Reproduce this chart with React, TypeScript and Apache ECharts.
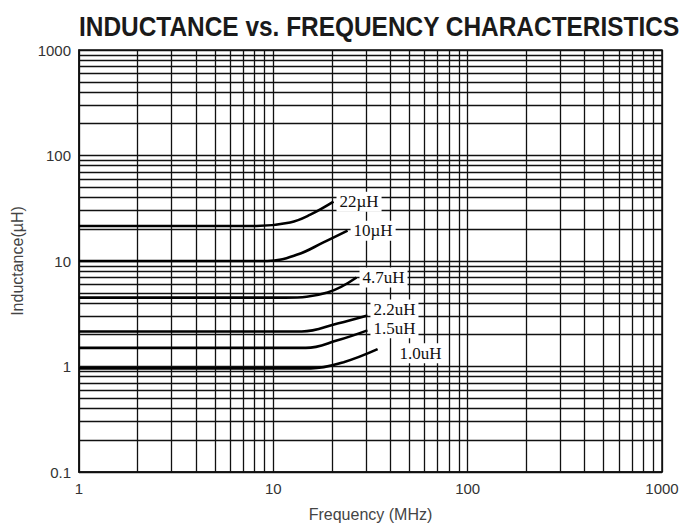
import React, { useEffect, useRef } from "react";
import * as echarts from "echarts";

const TITLE = "INDUCTANCE vs. FREQUENCY CHARACTERISTICS";
const X_NAME = "Frequency (MHz)";
const Y_NAME = "Inductance(µH)";
const X_TICK_LABELS = ["1", "10", "100", "1000"];
const Y_TICK_LABELS = ["0.1", "1", "10", "100", "1000"];

// minor grid values (2..9 per decade)
const X_GRID = [2, 3, 4, 5, 6, 7, 8, 9, 20, 30, 40, 50, 60, 70, 80, 90, 200, 300, 400, 500, 600, 700, 800, 900];
const Y_GRID = [
  0.2, 0.3, 0.4, 0.5, 0.6, 0.7, 0.8, 0.9,
  2, 3, 4, 5, 6, 7, 8, 9,
  20, 30, 40, 50, 60, 70, 80, 90,
  200, 300, 400, 500, 600, 700, 800, 900,
];

const NAMES = ["22µH", "10µH", "4.7uH", "2.2uH", "1.5uH", "1.0uH"];
const FREQ_22 = [1, 8.2, 12.2, 15.5, 20.4];
const IND_22 = [21.5, 21.5, 23.2, 27.5, 36.5];
const FREQ_10 = [1, 9.3, 13.3, 18.1, 24.1];
const IND_10 = [10, 10, 11.5, 15.0, 19.4];
const FREQ_47 = [1, 11.5, 19.0, 26.8];
const IND_47 = [4.5, 4.5, 5.04, 6.98];
const FREQ_22U = [1, 14.0, 21.4, 30.5];
const IND_22U = [2.15, 2.15, 2.56, 3.05];
const FREQ_15 = [1, 14.7, 21.4, 30.5];
const IND_15 = [1.5, 1.5, 1.77, 2.2];
const FREQ_10U = [1, 15.6, 23.0, 34.4];
const IND_10U = [0.96, 0.96, 1.1, 1.46];

const LABEL_OFFSETS: number[][] = [
  [0, 0],
  [0, 0],
  [0, 0],
  [0, -6],
  [0, -2],
  [16, 4],
];

export default function App() {
  const ref = useRef<HTMLDivElement>(null);
  useEffect(() => {
    if (!ref.current) return;
    const chart = echarts.init(ref.current, undefined, { renderer: "svg" });
    const curves = [
      [FREQ_22, IND_22],
      [FREQ_10, IND_10],
      [FREQ_47, IND_47],
      [FREQ_22U, IND_22U],
      [FREQ_15, IND_15],
      [FREQ_10U, IND_10U],
    ];
    const labelFor = (v: number, labels: string[], base: number) => {
      const i = Math.round(Math.log10(v)) - base;
      return labels[i] ?? "";
    };
    const gridLine = { color: "#111", width: 1.3, type: "solid" as const };
    chart.setOption({
      animation: false,
      backgroundColor: "#fff",
      graphic: [
        {
          type: "text",
          x: 79,
          y: 13,
          scaleX: 0.905,
          style: {
            text: TITLE,
            fontFamily: "Liberation Sans, Arial",
            fontWeight: "bold",
            fontSize: 27,
            fill: "#1a1a1a",
          },
        },
      ],
      grid: {
        left: 79,
        right: 30,
        top: 50,
        bottom: 54,
        show: true,
        borderColor: "#111",
        borderWidth: 1.5,
      },
      xAxis: {
        type: "log",
        logBase: 10,
        min: 1,
        max: 1000,
        name: X_NAME,
        nameLocation: "middle",
        nameGap: 34,
        nameTextStyle: { fontFamily: "Liberation Sans, Arial", fontSize: 16, color: "#444" },
        axisLine: { show: true, lineStyle: { color: "#111", width: 1.5 } },
        axisTick: { show: false },
        axisLabel: {
          fontFamily: "Liberation Sans, Arial",
          fontSize: 15,
          color: "#333",
          margin: 9,
          formatter: (v: number) => labelFor(v, X_TICK_LABELS, 0),
        },
        splitLine: { show: true, lineStyle: gridLine },
      },
      yAxis: {
        type: "log",
        logBase: 10,
        min: 0.1,
        max: 1000,
        name: Y_NAME,
        nameLocation: "middle",
        nameGap: 54,
        nameTextStyle: { fontFamily: "Liberation Sans, Arial", fontSize: 16, color: "#444" },
        axisLine: { show: true, lineStyle: { color: "#111", width: 1.5 } },
        axisTick: { show: false },
        axisLabel: {
          fontFamily: "Liberation Sans, Arial",
          fontSize: 15,
          color: "#333",
          margin: 8,
          formatter: (v: number) => labelFor(v, Y_TICK_LABELS, -1),
        },
        splitLine: { show: true, lineStyle: gridLine },
      },
      series: [
        {
          type: "line",
          z: 1,
          symbol: "none",
          data: [[1, 1]],
          lineStyle: { opacity: 0 },
          silent: true,
          markLine: {
            silent: true,
            symbol: "none",
            animation: false,
            label: { show: false },
            lineStyle: gridLine,
            data: [
              ...X_GRID.map((v) => ({ xAxis: v })),
              ...Y_GRID.map((v) => ({ yAxis: v })),
            ],
          },
        },
        ...curves.map(([fx, ly], i) => ({
          type: "line",
          name: NAMES[i],
          z: 5,
          symbol: "none",
          smooth: 0.4,
          data: fx.map((f, j) => [f, ly[j]]),
          lineStyle: { color: "#000", width: 2.6 },
          endLabel: {
            show: true,
            formatter: NAMES[i],
            distance: 3,
            offset: LABEL_OFFSETS[i],
            backgroundColor: "#fff",
            padding: [2, 3, 1, 3],
            fontFamily: "Liberation Serif, DejaVu Serif, serif",
            fontSize: 17,
            color: "#111",
          },
        })),
      ],
    });
    return () => chart.dispose();
  }, []);
  return (
    <div
      ref={ref}
      style={{ position: "fixed", left: 0, top: 0, width: 692, height: 527 }}
    />
  );
}
